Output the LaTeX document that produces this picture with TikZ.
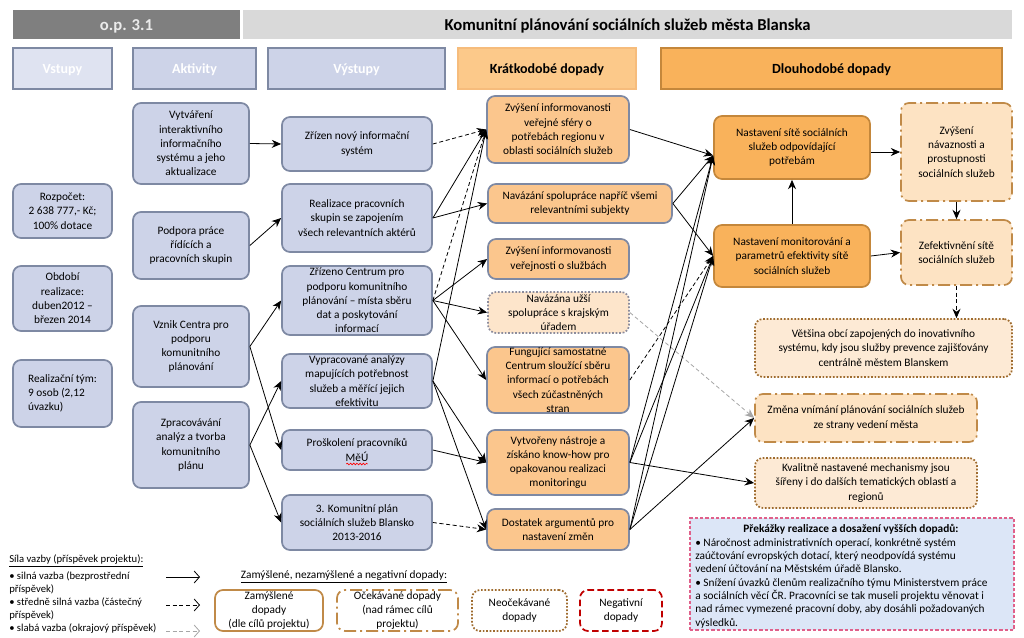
\documentclass[tikz,border=0pt]{standalone}
\usepackage{fontspec}
\setmainfont{Carlito}
\usetikzlibrary{
  arrows.meta,
  decorations.pathmorphing
}
\definecolor{hdrdark}{HTML}{7F7F7F}
\definecolor{hdrlight}{HTML}{D9D9D9}
\definecolor{actfill}{HTML}{CDD3E8}
\definecolor{vstfill}{HTML}{DFE3F1}
\definecolor{actline}{HTML}{7E89A3}
\definecolor{shortfill}{HTML}{FBC68D}
\definecolor{shorthdr}{HTML}{FCC98A}
\definecolor{shorthdrline}{HTML}{F6BC7C}
\definecolor{longfill}{HTML}{F9B25B}
\definecolor{longline}{HTML}{C4873B}
\definecolor{expfill}{HTML}{FDE3C3}
\definecolor{expline}{HTML}{C08A48}
\definecolor{unexpfill}{HTML}{FDEAD5}
\definecolor{unexpline}{HTML}{9F6C2F}
\definecolor{weakfill}{HTML}{FDE5CB}
\definecolor{weakline}{HTML}{8C8C9C}
\definecolor{obstfill}{HTML}{DCE6F7}
\definecolor{obstline}{HTML}{E0608A}
\definecolor{negline}{HTML}{C00000}
\definecolor{weakarrow}{HTML}{A6A6A6}
\tikzset{
  spanbox/.style n args={4}{
    minimum width={(#3-#1)*0.75pt},
    minimum height={(#4-#2)*0.75pt},
    at={({(#1+#3)/2},{(#2+#4)/2})}
  },
  txt/.style={
    font=\fontsize{8.5}{10.7}\selectfont,
    align=center
  },
  box/.style={
    txt,
    rounded corners=6pt,
    inner sep=0pt,
    line width=1.3pt
  },
  hdrbox/.style={
    inner sep=0pt,
    text height=9pt,
    text depth=0pt,
    font=\fontsize{12.5}{14}\selectfont\bfseries
  },
  colbox/.style={
    line width=1.3pt,
    inner sep=0pt,
    text height=8pt,
    text depth=0pt,
    font=\fontsize{10.5}{12}\selectfont\bfseries
  },
  actbox/.style={box, draw=actline, fill=actfill},
  shortbox/.style={box, draw=actline, fill=shortfill},
  weakbox/.style={box, draw=weakline, fill=weakfill, dash pattern=on 1.3pt off 1.3pt},
  longbox/.style={box, draw=longline, fill=longfill},
  expbox/.style={box, draw=expline, fill=expfill, dash pattern=on 9pt off 3pt on 1.5pt off 3pt},
  unexpbox/.style={box, draw=unexpline, fill=unexpfill, dash pattern=on 1.3pt off 1.3pt},
  link/.style={
    draw,
    line width=0.6pt,
    -{Stealth[length=7pt,width=6pt]}
  },
  midlink/.style={link, dash pattern=on 3pt off 2pt},
  weaklink/.style={link, weakarrow, dash pattern=on 3pt off 2pt},
  legarrow/.style={
    draw,
    line width=0.6pt,
    -{Straight Barb[length=4pt,width=9pt]}
  },
  spellmark/.style={
    draw=red,
    line width=0.5pt,
    decorate,
    decoration={snake, amplitude=0.6pt, segment length=2.4pt}
  }
}

\begin{document}
\begin{tikzpicture}[x=0.75pt,y=-0.75pt]
  \useasboundingbox (0,0) rectangle (1024,638);

  % headers
  \node[hdrbox, fill=hdrdark, text=white!92!black, spanbox={13}{10}{240}{39}] (hdrop) {o.p. 3.1};
  \node[hdrbox, fill=hdrlight, spanbox={243}{10}{1012}{39}] (hdrtitle) {Komunitní plánování sociálních služeb města Blanska};

  \node[colbox, draw=actline, fill=vstfill, text=white, spanbox={13}{48}{112}{89}] (hvst) {Vstupy};
  \node[colbox, draw=actline, fill=actfill, text=white, spanbox={133}{48}{256}{89}] (hakt) {Aktivity};
  \node[colbox, draw=actline, fill=actfill, text=white, spanbox={268}{48}{445}{89}] (hvys) {Výstupy};
  \node[colbox, draw=shorthdrline, fill=shorthdr, spanbox={458}{48}{636}{89}] (hkrat) {Krátkodobé dopady};
  \node[colbox, draw=longline, fill=longfill, spanbox={661}{48}{1002}{89}] (hdlouh) {Dlouhodobé dopady};

  % inputs
  \node[actbox, spanbox={13}{184}{112}{238}] (in1) {Rozpočet:\\2 638 777,- Kč;\\100\% dotace};
  \node[actbox, spanbox={13}{266}{112}{331}] (in2) {Období\\realizace:\\duben2012 –\\březen 2014};
  \node[actbox, align=left, spanbox={13}{360}{112}{427}] (in3) {Realizační tým:\\9 osob (2,12\\úvazku)};

  % activities
  \node[actbox, spanbox={133}{103}{249}{184}] (a1) {Vytváření\\interaktivního\\informačního\\systému a jeho\\aktualizace};
  \node[actbox, spanbox={133}{212}{249}{279}] (a2) {Podpora práce\\řídících a\\pracovních skupin};
  \node[actbox, spanbox={133}{306}{249}{387}] (a3) {Vznik Centra pro\\podporu\\komunitního\\plánování};
  \node[actbox, spanbox={133}{402}{249}{488}] (a4) {Zpracovávání\\analýz a tvorba\\komunitního\\plánu};

  % outputs
  \node[actbox, spanbox={282}{117}{432}{171}] (o1) {Zřízen nový informační\\systém};
  \node[actbox, spanbox={282}{184}{432}{252}] (o2) {Realizace pracovních\\skupin se zapojením\\všech relevantních aktérů};
  \node[actbox, spanbox={282}{266}{432}{335}] (o3) {Zřízeno Centrum pro\\podporu komunitního\\plánování – místa sběru\\dat a poskytování\\informací};
  \node[actbox, spanbox={282}{354}{432}{408}] (o4) {Vypracované analýzy\\mapujících potřebnost\\služeb a měřící jejich\\efektivitu};
  \node[actbox, spanbox={282}{430}{432}{470}] (o5) {Proškolení pracovníků\\MěÚ};
  \node[actbox, spanbox={282}{495}{432}{550}] (o6) {3. Komunitní plán\\sociálních služeb Blansko\\2013-2016};
  \draw[spellmark] ([shift={(-8pt,-10.5pt)}]o5.center) -- ([shift={(8pt,-10.5pt)}]o5.center);

  % short-term impacts
  \node[shortbox, spanbox={487}{96}{629}{163}] (s1) {Zvýšení informovanosti\\veřejné sféry o\\potřebách regionu v\\oblasti sociálních služeb};
  \node[shortbox, spanbox={488}{184}{672}{223}] (s2) {Navázání spolupráce napříč všemi\\relevantními subjekty};
  \node[shortbox, spanbox={488}{239}{629}{279}] (s3) {Zvýšení informovanosti\\veřejnosti o službách};
  \node[weakbox, spanbox={488}{292}{629}{333}] (s4) {Navázána užší\\spolupráce s krajským\\úřadem};
  \node[shortbox, spanbox={487}{347}{629}{413}] (s5) {Fungující samostatné\\Centrum sloužící sběru\\informací o potřebách\\všech zúčastněných\\stran};
  \node[shortbox, spanbox={487}{430}{629}{495}] (s6) {Vytvořeny nástroje a\\získáno know-how pro\\opakovanou realizaci\\monitoringu};
  \node[shortbox, spanbox={487}{509}{629}{550}] (s7) {Dostatek argumentů pro\\nastavení změn};

  % long-term impacts
  \node[longbox, spanbox={714}{116}{870}{179}] (l1) {Nastavení sítě sociálních\\služeb odpovídající\\potřebám};
  \node[longbox, spanbox={714}{225}{870}{287}] (l2) {Nastavení monitorování a\\parametrů efektivity sítě\\sociálních služeb};
  \node[expbox, spanbox={901}{103}{1012}{201}] (r1) {Zvýšení\\návaznosti a\\prostupnosti\\sociálních služeb};
  \node[expbox, spanbox={901}{220}{1012}{285}] (r2) {Zefektivnění sítě\\sociálních služeb};
  \node[unexpbox, spanbox={755}{319}{1012}{377}] (r3) {Většina obcí zapojených do inovativního\\systému, kdy jsou služby prevence zajišťovány\\centrálně městem Blanskem};
  \node[expbox, spanbox={755}{394}{977}{442}] (r4) {Změna vnímání plánování sociálních služeb\\ze strany vedení města};
  \node[unexpbox, spanbox={755}{458}{977}{508}] (r5) {Kvalitně nastavené mechanismy jsou\\šířeny i do dalších tematických oblastí a\\regionů};
  \coordinate (l1in) at ([yshift=-6pt]l1.west);

  % obstacles
  \node[draw=obstline, fill=obstfill, line width=0.9pt, dash pattern=on 2.5pt off 1.5pt, inner sep=0pt, spanbox={690}{518}{1014}{630}] (obst) {};
  \node[txt, font=\fontsize{8.5}{10}\selectfont\bfseries] (obsthead) at (851,529) {Překážky realizace a dosažení vyšších dopadů:};
  \node[txt, font=\fontsize{8.5}{10}\selectfont, align=left, anchor=north west, inner sep=0pt] (obstbody) at (695,538) {• Náročnost administrativních operací, konkrétně systém\\zaúčtování evropských dotací, který neodpovídá systému\\vedení účtování na Městském úřadě Blansko.\\• Snížení úvazků členům realizačního týmu Ministerstvem práce\\a sociálních věcí ČR. Pracovníci se tak museli projektu věnovat i\\nad rámec vymezené pracovní doby, aby dosáhli požadovaných\\výsledků.};

  % activities -> outputs
  \draw[link] (a1.east) -- (o1.west);
  \draw[link] (a2.east) -- (o2.west);
  \draw[link] (a3.east) -- (o3.west);
  \draw[link] (a3.east) -- (o5.west);
  \draw[link] (a4.east) -- (o4.west);
  \draw[link] (a4.east) -- (o6.west);

  % outputs -> short-term
  \draw[midlink] (o1.east) -- (s1.west);
  \draw[link] (o2.east) -- (s1.west);
  \draw[link] (o2.east) -- (s2.west);
  \draw[midlink] (o3.east) -- (s1.west);
  \draw[link] (o3.east) -- (s3.west);
  \draw[link] (o3.east) -- (s4.west);
  \draw[link] (o3.east) -- (s5.west);
  \draw[link] (o4.east) -- (s1.west);
  \draw[link] (o4.east) -- (s6.west);
  \draw[link] (o4.east) -- (s7.west);
  \draw[link] (o5.east) -- (s6.west);
  \draw[midlink] (o6.east) -- (s7.west);

  % short-term -> long-term
  \draw[link] (s1.east) -- (l1in);
  \draw[link] (s2.east) -- (l1in);
  \draw[link] (s2.east) -- (l2.west);
  \draw[weaklink] (s4.east) -- (r4.west);
  \draw[midlink] (s5.east) -- (l2.west);
  \draw[link] (s6.east) -- (l1in);
  \draw[link] (s6.east) -- (l2.west);
  \draw[link] (s6.east) -- (r5.west);
  \draw[link] (s7.east) -- (l1in);
  \draw[link] (s7.east) -- (l2.west);
  \draw[link] (s7.east) -- (r4.west);

  % long-term chain
  \draw[link] (l1.east |- r1.west) -- (r1.west);
  \draw[link] (l2.north) -- (l1.south);
  \draw[link] (l2.east) -- (r2.west);
  \draw[link] (r1.south) -- (r2.north);
  \draw[midlink] (r2.south) -- (r2.south |- r3.north);

  % legend
  \node[txt, font=\fontsize{8}{10}\selectfont, align=left, anchor=west, inner sep=0pt] (legtitle) at (9,561) {\underline{Síla vazby (příspěvek projektu):}};
  \node[txt, font=\fontsize{8}{9.9}\selectfont, align=left, anchor=north west, inner sep=0pt] (legitems) at (9,571) {• silná vazba (bezprostřední\\příspěvek)\\• středně silná vazba (částečný\\příspěvek)\\• slabá vazba (okrajový příspěvek)};
  \coordinate (strongA) at (166,577);
  \coordinate (strongB) at (200,577);
  \coordinate (midA) at (166,605);
  \coordinate (midB) at (200,605);
  \coordinate (weakA) at (166,631);
  \coordinate (weakB) at (200,631);
  \draw[legarrow] (strongA) -- (strongB);
  \draw[legarrow, dash pattern=on 3pt off 2pt] (midA) -- (midB);
  \draw[legarrow, weakarrow, dash pattern=on 3pt off 2pt] (weakA) -- (weakB);

  \node[txt, inner sep=0pt] (legimpact) at (344,577) {\underline{Zamýšlené, nezamýšlené a negativní dopady:}};
  \node[box, draw=expline, spanbox={215}{590}{323}{631}] (lg1) {Zamýšlené\\dopady\\(dle cílů projektu)};
  \node[box, draw=expline, dash pattern=on 9pt off 3pt on 1.5pt off 3pt, spanbox={337}{590}{458}{631}] (lg2) {Očekávané dopady\\(nad rámec cílů\\projektu)};
  \node[box, draw=unexpline, dash pattern=on 1.3pt off 1.3pt, spanbox={472}{590}{567}{631}] (lg3) {Neočekávané\\dopady};
  \node[box, draw=negline, dash pattern=on 5pt off 2.5pt, spanbox={580}{590}{662}{631}] (lg4) {Negativní\\dopady};
\end{tikzpicture}
\end{document}
